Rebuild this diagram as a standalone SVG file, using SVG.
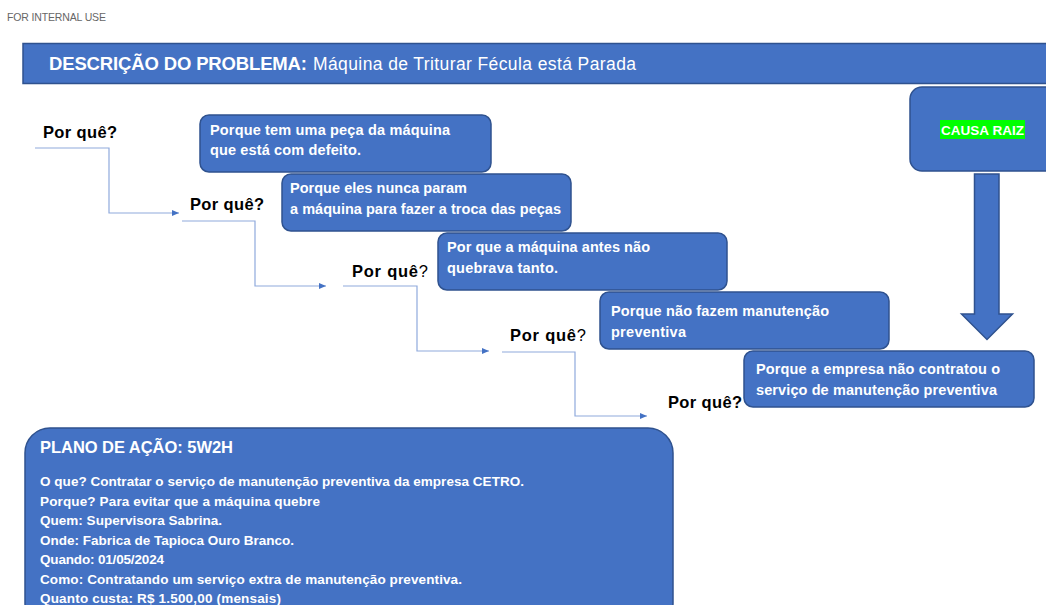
<svg xmlns="http://www.w3.org/2000/svg" width="1046" height="605" viewBox="0 0 1046 605">
<style>
.box{fill:#4472C4;stroke:#2F528F;stroke-width:1.5}
.bt{font-family:"Liberation Sans",Arial,sans-serif;font-weight:bold;font-size:14.5px;fill:#fff}
.pq{font-family:"Liberation Sans",Arial,sans-serif;font-weight:bold;font-size:16.5px;fill:#000}
.pt{font-family:"Liberation Sans",Arial,sans-serif;font-weight:bold;font-size:13.5px;fill:#fff}
.con{fill:none;stroke:#8FAADC;stroke-width:1.2}
</style>
<defs>
<marker id="ah" markerWidth="8" markerHeight="8" refX="7" refY="4" orient="auto" markerUnits="userSpaceOnUse">
<path d="M0,1 L7,4 L0,7 Z" fill="#4472C4"/>
</marker>
</defs>
<rect width="1046" height="605" fill="#fff"/>
<text x="7" y="21" font-family="Liberation Sans,Arial,sans-serif" font-size="10.5" fill="#666" textLength="99">FOR INTERNAL USE</text>

<g id="header">
<rect x="23" y="43.5" width="1030" height="40" class="box"/>
<text x="49" y="70" font-family="Liberation Sans,Arial,sans-serif" fill="#fff"><tspan font-weight="bold" font-size="18.5" textLength="258">DESCRIÇÃO DO PROBLEMA:</tspan><tspan x="313" font-size="17.5" textLength="323">Máquina de Triturar Fécula está Parada</tspan></text>
</g>

<g id="connectors">
<polyline class="con" points="35,148 109,148 109,213 179,213" marker-end="url(#ah)"/>
<polyline class="con" points="182,221 255,221 255,286 326,286" marker-end="url(#ah)"/>
<polyline class="con" points="343,286 417,286 417,351 489,351" marker-end="url(#ah)"/>
<polyline class="con" points="502,352 575,352 575,416 647,416" marker-end="url(#ah)"/>
</g>

<g id="labels">
<text class="pq" x="43" y="138" textLength="74">Por quê?</text>
<text class="pq" x="190" y="210" textLength="74">Por quê?</text>
<text class="pq" x="352" y="277"><tspan textLength="66">Por quê</tspan><tspan style="font-weight:normal">?</tspan></text>
<text class="pq" x="510" y="341"><tspan textLength="66">Por quê</tspan><tspan style="font-weight:normal">?</tspan></text>
<text class="pq" x="668" y="408" textLength="74">Por quê?</text>
</g>

<g id="box1">
<rect x="200" y="115" width="291" height="57" rx="9" class="box"/>
<text class="bt" x="210" y="135" textLength="240">Porque tem uma peça da máquina</text>
<text class="bt" x="210" y="155" textLength="151">que está com defeito.</text>
</g>
<g id="box2">
<rect x="282" y="174" width="289" height="57" rx="9" class="box"/>
<text class="bt" x="290" y="193" textLength="177">Porque eles nunca param</text>
<text class="bt" x="290" y="214" textLength="271">a máquina para fazer a troca das peças</text>
</g>
<g id="box3">
<rect x="438" y="233" width="289" height="57" rx="9" class="box"/>
<text class="bt" x="447" y="252" textLength="203">Por que a máquina antes não</text>
<text class="bt" x="447" y="273" textLength="111">quebrava tanto.</text>
</g>
<g id="box4">
<rect x="600" y="292" width="289" height="57" rx="9" class="box"/>
<text class="bt" x="611" y="316" textLength="218">Porque não fazem manutenção</text>
<text class="bt" x="611" y="337" textLength="75">preventiva</text>
</g>
<g id="box5">
<rect x="744" y="351" width="290" height="56" rx="9" class="box"/>
<text class="bt" x="756" y="374" textLength="244">Porque a empresa não contratou o</text>
<text class="bt" x="756" y="395" textLength="241">serviço de manutenção preventiva</text>
</g>

<g id="causa-raiz">
<rect x="910" y="87" width="150" height="84" rx="12" class="box"/>
<rect x="940" y="120" width="85" height="19" fill="#00FF00"/>
<text class="bt" x="941" y="135" style="font-size:13.5px" textLength="83">CAUSA RAIZ</text>
</g>

<g id="big-arrow">
<path d="M974.5,174 L999,174 L999,314 L1012.5,314 L987,339.5 L961.5,314 L974.5,314 Z" class="box"/>
</g>

<g id="plano">
<rect x="25" y="428" width="648" height="200" rx="25" class="box"/>
<text class="bt" x="40" y="453" style="font-size:16.5px" textLength="193">PLANO DE AÇÃO: 5W2H</text>
<text class="pt" x="40" y="486" textLength="484">O que? Contratar o serviço de manutenção preventiva da empresa CETRO.</text>
<text class="pt" x="40" y="505.5" textLength="280">Porque? Para evitar que a máquina quebre</text>
<text class="pt" x="40" y="525" textLength="182">Quem: Supervisora Sabrina.</text>
<text class="pt" x="40" y="544.5" textLength="254">Onde: Fabrica de Tapioca Ouro Branco.</text>
<text class="pt" x="40" y="564" textLength="124">Quando: 01/05/2024</text>
<text class="pt" x="40" y="583.5" textLength="422">Como: Contratando um serviço extra de manutenção preventiva.</text>
<text class="pt" x="40" y="603" textLength="241">Quanto custa: R$ 1.500,00 (mensais)</text>
</g>
</svg>
